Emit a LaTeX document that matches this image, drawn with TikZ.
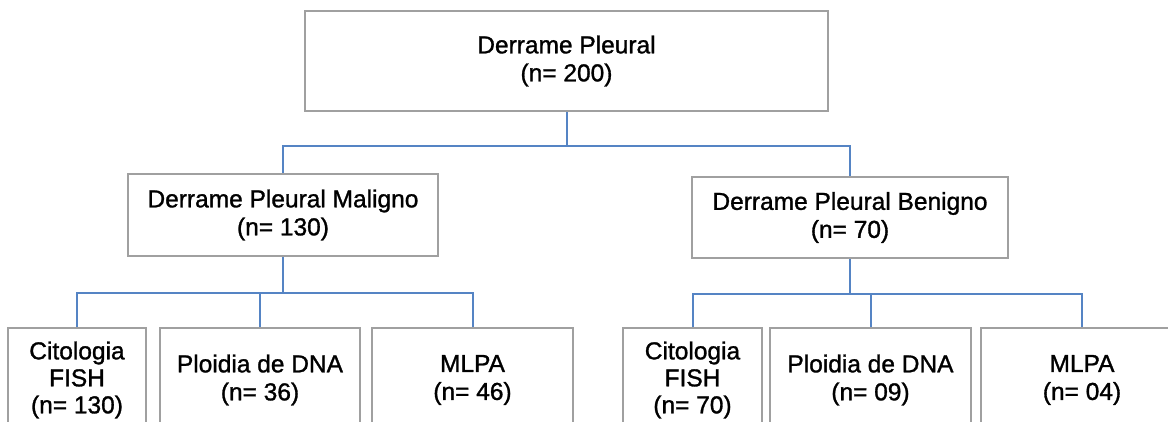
\documentclass[tikz,border=0pt]{standalone}
\usepackage{fontspec}
\setmainfont{Liberation Sans}[UprightFeatures={FakeBold=1.2}]
\definecolor{boxgray}{HTML}{A0A0A0}
\definecolor{connblue}{HTML}{5584C4}
\definecolor{txt}{HTML}{000000}
\begin{document}
\begin{tikzpicture}[x=1pt,y=-1pt,
  box/.style={draw=boxgray, line width=2pt, fill=white, inner sep=0pt, align=center,
    text=txt, font=\fontsize{24.5}{28}\selectfont},
  conn/.style={draw=connblue, line width=2pt}]
\useasboundingbox (0,0) rectangle (1168,421);
\fill[white] (0,0) rectangle (1168,421);
\clip (0,0) rectangle (1168,421);
% nodes
\node[box, minimum width=523pt, minimum height=100pt] (top) at (566.5,61) {Derrame Pleural\\(n= 200)};
\node[box, minimum width=310pt, minimum height=82pt] (mal) at (283,215) {Derrame Pleural Maligno\\(n= 130)};
\node[box, minimum width=316pt, minimum height=81pt] (ben) at (850,217.5) {Derrame Pleural Benigno\\(n= 70)};
\node[box, minimum width=138pt, minimum height=104pt, font=\fontsize{24.5}{27}\selectfont] (m1) at (77,380) {Citologia\\FISH\\(n= 130)};
\node[box, minimum width=200pt, minimum height=104pt] (m2) at (260,380) {Ploidia de DNA\\(n= 36)};
\node[box, minimum width=201pt, minimum height=104pt] (m3) at (472.5,380) {MLPA\\(n= 46)};
\node[box, minimum width=139pt, minimum height=104pt, font=\fontsize{24.5}{27}\selectfont] (b1) at (692.5,380) {Citologia\\FISH\\(n= 70)};
\node[box, minimum width=201pt, minimum height=104pt] (b2) at (870.5,380) {Ploidia de DNA\\(n= 09)};
\node[box, minimum width=202pt, minimum height=104pt] (b3) at (1082,380) {MLPA\\(n= 04)};
% connectors
\draw[conn] (top.south) -- ++(0,34) -| (mal.north);
\draw[conn] (top.south) -- ++(0,34) -| (ben.north);
\draw[conn] (mal.south) -- (mal.south |- 0,294);
\draw[conn] (m1.north) -- ++(0,-34) -| (m3.north);
\draw[conn] (m2.north) -- ++(0,-34);
\draw[conn] (ben.south) -- (ben.south |- 0,295);
\draw[conn] (b1.north) -- ++(0,-33) -| (b3.north);
\draw[conn] (b2.north) -- ++(0,-33);
\end{tikzpicture}
\end{document}
